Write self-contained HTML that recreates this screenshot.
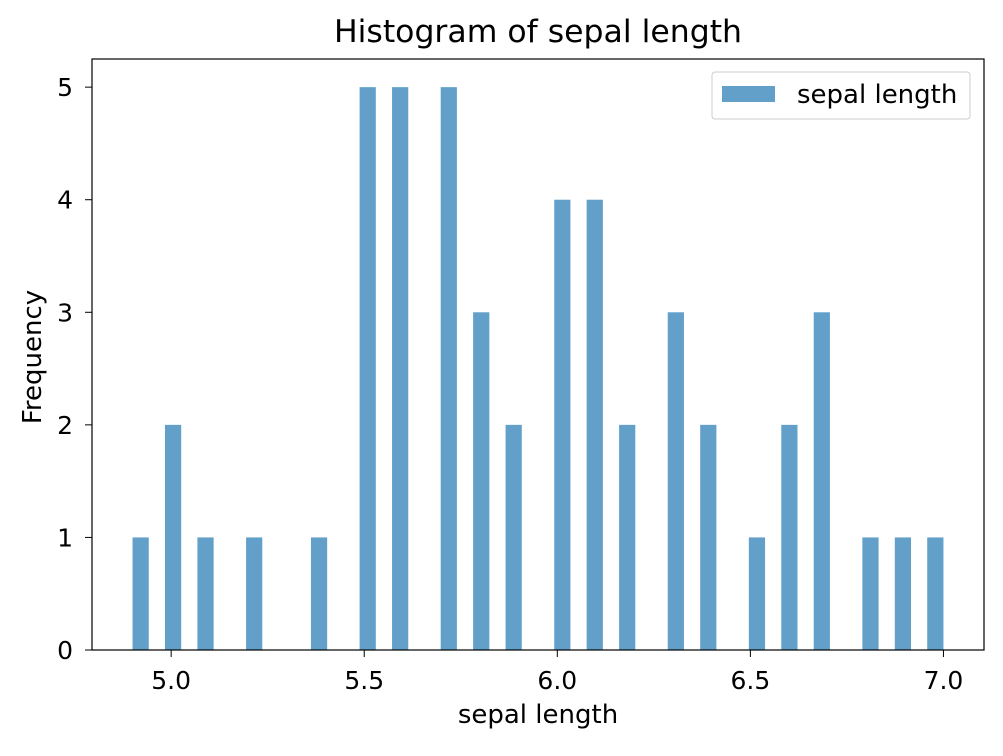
<!DOCTYPE html>
<html><head><meta charset="utf-8"><style>
body{margin:0;background:#fff;}
svg text{font-family:"DejaVu Sans","Liberation Sans",sans-serif;fill:#000;}
</style></head><body>
<svg id="chart" width="1003" height="751" xmlns="http://www.w3.org/2000/svg">
<text x="538" y="42" style="font-size:31.5px" text-anchor="middle">Histogram of sepal length</text>
<g id="bars"></g>
<g id="xticks"></g>
<g id="yticks"></g>
<rect x="92" y="59" width="892" height="591" fill="none" stroke="#000" stroke-width="1.2"/>
<text x="538" y="723" style="font-size:26px" text-anchor="middle">sepal length</text>
<text transform="translate(41,357) rotate(-90)" style="font-size:26px" text-anchor="middle">Frequency</text>
<g>
<rect x="712" y="72" width="258" height="47" rx="3" fill="#fff" stroke="#ccc"/>
<rect x="722" y="86" width="53" height="16" fill="#1f77b4" fill-opacity="0.7"/>
<text x="797" y="103" style="font-size:26px">sepal length</text>
</g>
</svg>
<script>
const values=[4.9,5.0,5.1,5.2,5.4,5.5,5.6,5.7,5.8,5.9,6.0,6.1,6.2,6.3,6.4,6.5,6.6,6.7,6.8,6.9,7.0];
const counts=[1,2,1,1,1,5,5,5,3,2,4,4,2,3,2,1,2,3,1,1,1];
const xTicks=[5.0,5.5,6.0,6.5,7.0];
const yTicks=[0,1,2,3,4,5];
const NS="http://www.w3.org/2000/svg";
const minV=Math.min(...values),maxV=Math.max(...values),nBins=50;
const bw=(maxV-minV)/nBins;
const pad=(maxV-minV)*0.05;
const yMax=Math.max(...counts)*1.05;
const X=v=>92+(v-(minV-pad))/((maxV+pad)-(minV-pad))*892;
const Y=c=>650-c/yMax*591;
const bars=document.getElementById('bars');
values.forEach((v,i)=>{
  let b=Math.min(nBins-1,Math.floor((v-minV)/bw+1e-9));
  const x0=X(minV+b*bw),x1=X(minV+(b+1)*bw);
  const r=document.createElementNS(NS,'rect');
  r.setAttribute('x',x0);r.setAttribute('width',x1-x0);
  r.setAttribute('y',Y(counts[i]));r.setAttribute('height',650-Y(counts[i]));
  r.setAttribute('fill','#1f77b4');r.setAttribute('fill-opacity','0.7');
  
  
  bars.appendChild(r);
});
const xg=document.getElementById('xticks');
xTicks.forEach(t=>{
  const x=X(t);
  const l=document.createElementNS(NS,'line');
  l.setAttribute('x1',x);l.setAttribute('x2',x);l.setAttribute('y1',650);l.setAttribute('y2',657);l.setAttribute('stroke','#000');
  
  
  xg.appendChild(l);
  const tx=document.createElementNS(NS,'text');
  tx.setAttribute('x',x);tx.setAttribute('y',689);tx.setAttribute('style','font-size:25px');tx.setAttribute('text-anchor','middle');
  tx.textContent=t.toFixed(1);
  
  
  xg.appendChild(tx);
});
const yg=document.getElementById('yticks');
yTicks.forEach(t=>{
  const y=Y(t);
  const l=document.createElementNS(NS,'line');
  l.setAttribute('x1',85);l.setAttribute('x2',92);l.setAttribute('y1',y);l.setAttribute('y2',y);l.setAttribute('stroke','#000');
  
  
  yg.appendChild(l);
  const tx=document.createElementNS(NS,'text');
  tx.setAttribute('x',73);tx.setAttribute('y',y+9);tx.setAttribute('style','font-size:25px');tx.setAttribute('text-anchor','end');
  tx.textContent=t;
  
  
  yg.appendChild(tx);
});
</script>
</body></html>
